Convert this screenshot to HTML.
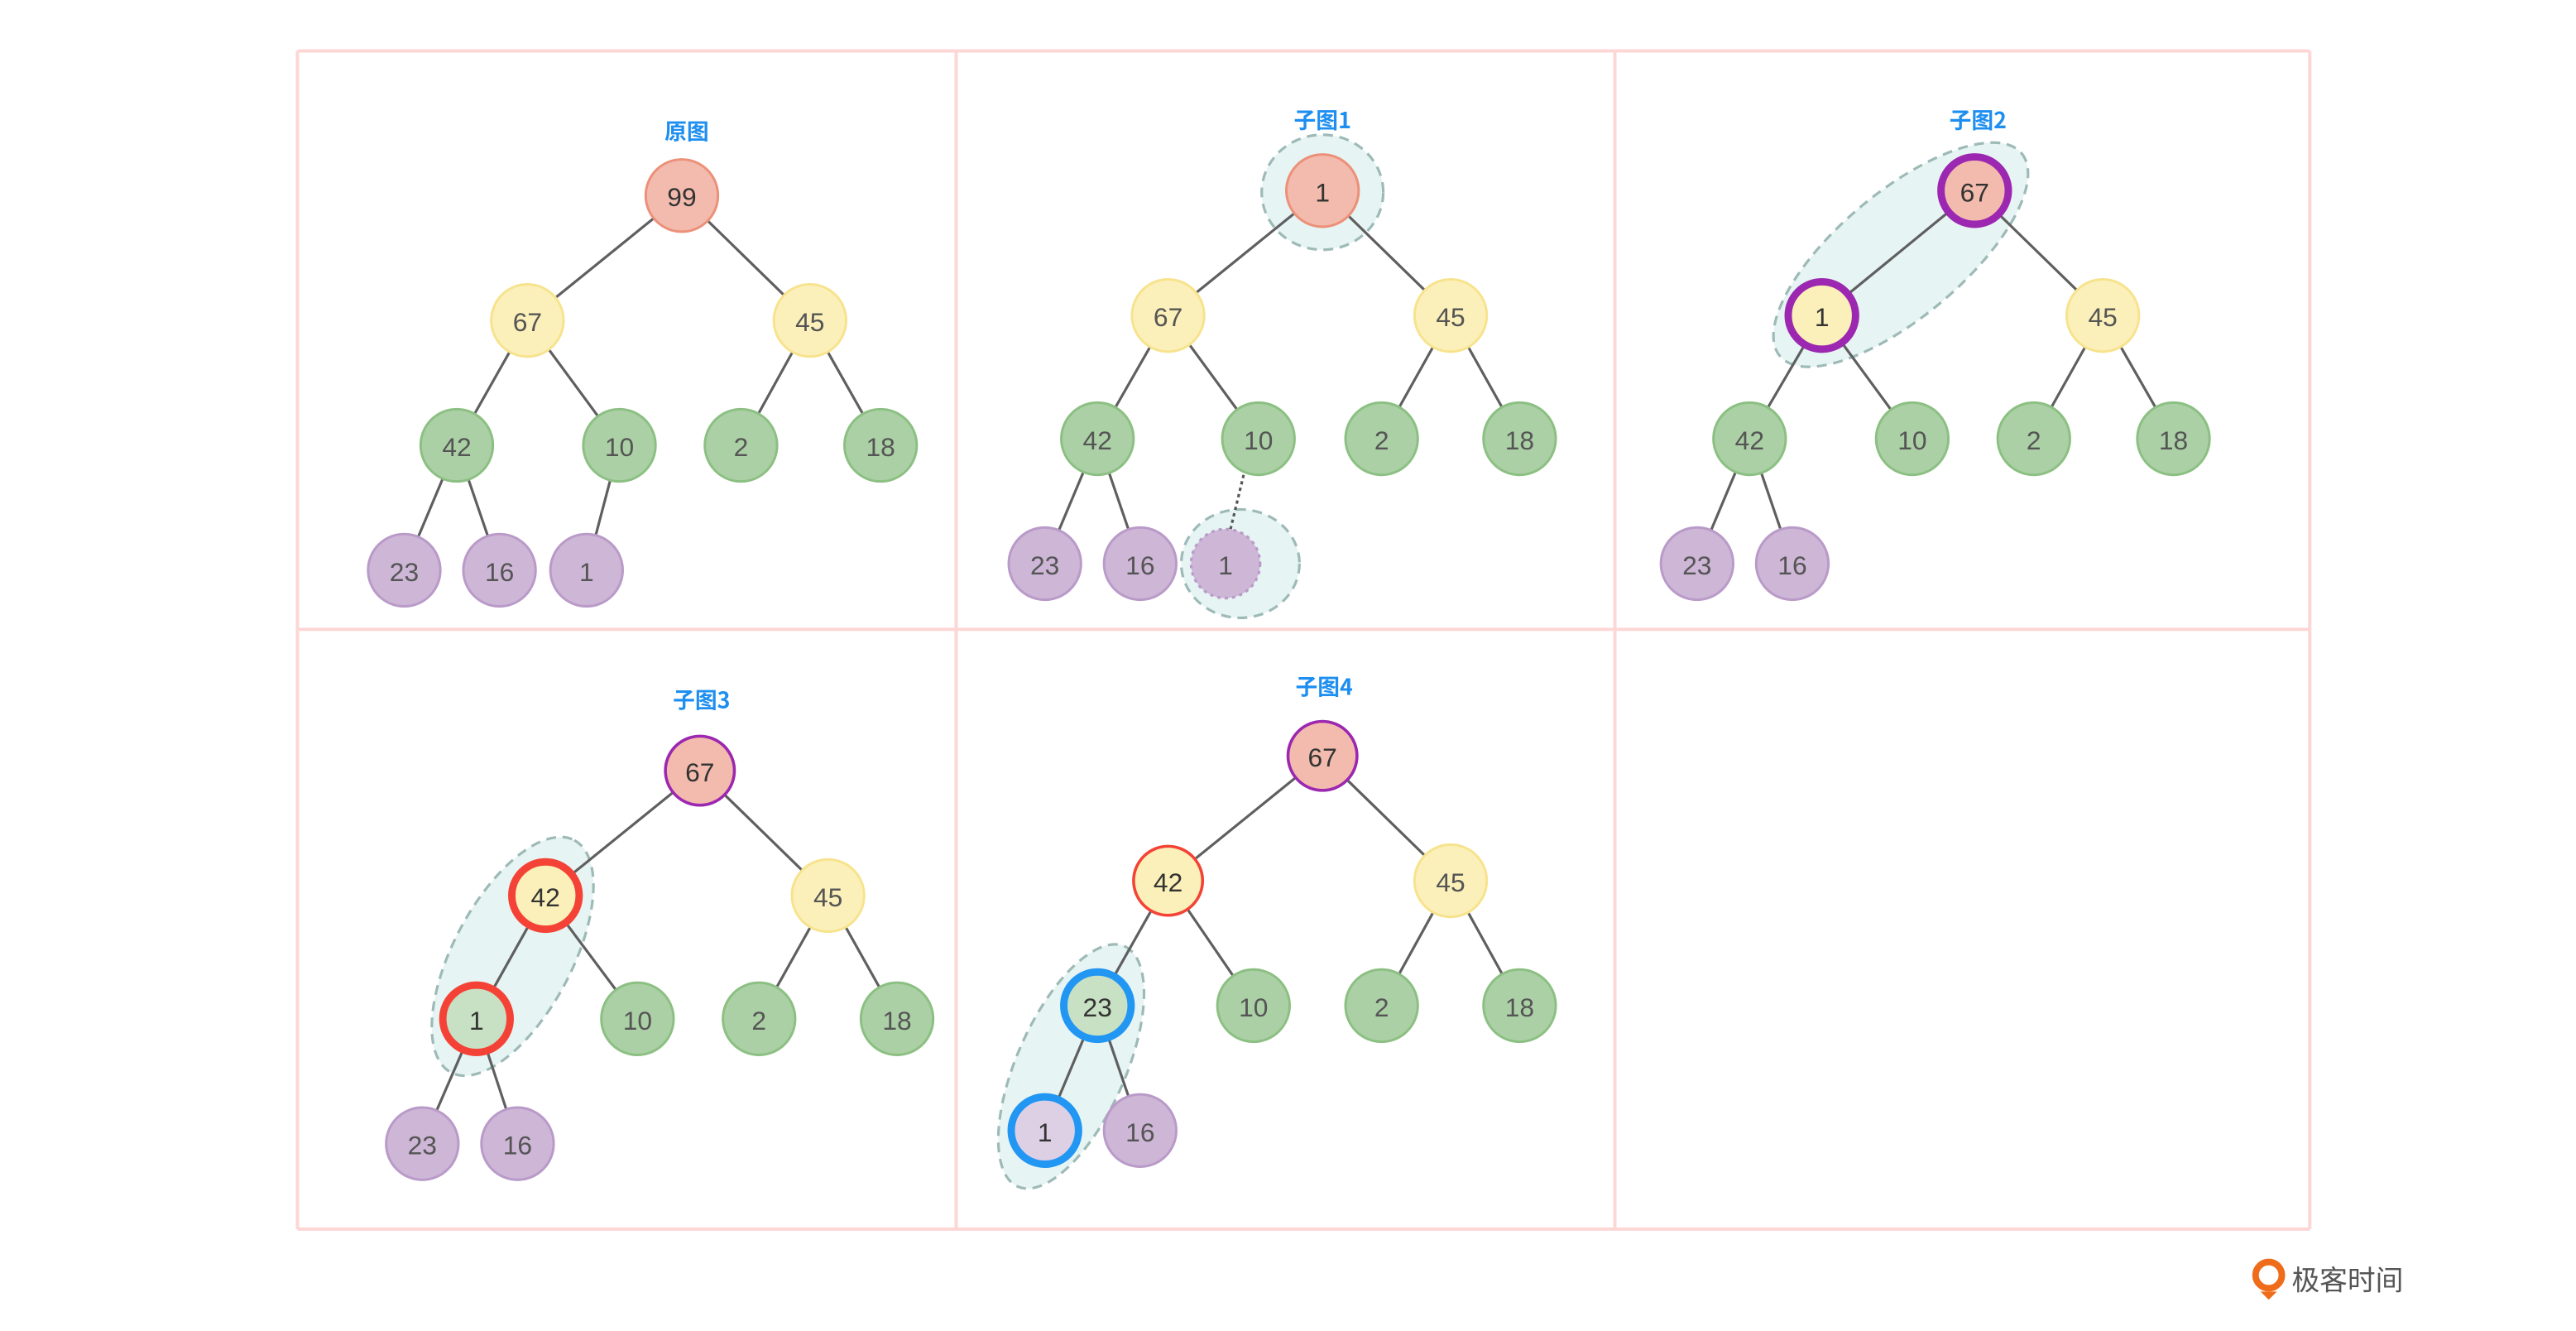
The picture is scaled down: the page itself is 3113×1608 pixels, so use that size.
<!DOCTYPE html>
<html><head><meta charset="utf-8"><style>
html,body{margin:0;padding:0;background:#fff;}
svg{display:block}
text{font-family:"Liberation Sans","Noto Sans CJK SC",sans-serif;}
.n{font-size:16px;fill:#555;text-anchor:middle;dominant-baseline:central}
.d{fill:#333}
.t{font-size:13.5px;fill:#1e8ff0;text-anchor:middle;font-weight:bold;font-family:"Noto Sans CJK SC",sans-serif}
.e{stroke:#5f5f5f;stroke-width:1.6}
.el{fill:#e6f4f3;stroke:#9dbab7;stroke-width:1.6;stroke-dasharray:6 4}
.R{fill:#f2bbad;stroke:#ec9079;stroke-width:1.5}
.Y{fill:#fbf0b9;stroke:#f7e38e;stroke-width:1.5}
.G{fill:#abd0a5;stroke:#8cc083;stroke-width:1.5}
.P{fill:#cdb6d6;stroke:#b99ac8;stroke-width:1.5}
</style></head><body>
<svg width="3113" height="1608" viewBox="0 0 1568 810" xmlns="http://www.w3.org/2000/svg">
<g stroke="#fdd6d6" stroke-width="2" fill="none">
<line x1="181" y1="31" x2="1406" y2="31"/><line x1="181" y1="383" x2="1406" y2="383"/><line x1="181" y1="748" x2="1406" y2="748"/>
<line x1="181" y1="31" x2="181" y2="748"/><line x1="582" y1="31" x2="582" y2="748"/><line x1="983" y1="31" x2="983" y2="748"/><line x1="1406" y1="31" x2="1406" y2="748"/>
</g>

<!-- Panel 1 -->
<text class="t" x="418" y="85">原图</text>
<g class="e"><line x1="415" y1="119" x2="321" y2="195"/><line x1="415" y1="119" x2="493" y2="195"/><line x1="321" y1="195" x2="278" y2="271"/><line x1="321" y1="195" x2="377" y2="271"/><line x1="493" y1="195" x2="451" y2="271"/><line x1="493" y1="195" x2="536" y2="271"/><line x1="278" y1="271" x2="246" y2="347"/><line x1="278" y1="271" x2="304" y2="347"/><line x1="377" y1="271" x2="357" y2="347"/></g>
<circle class="R" cx="415" cy="119" r="22"/><text class="n d" x="415" y="120">99</text>
<circle class="Y" cx="321" cy="195" r="22"/><text class="n" x="321" y="196">67</text>
<circle class="Y" cx="493" cy="195" r="22"/><text class="n" x="493" y="196">45</text>
<circle class="G" cx="278" cy="271" r="22"/><text class="n" x="278" y="272">42</text>
<circle class="G" cx="377" cy="271" r="22"/><text class="n" x="377" y="272">10</text>
<circle class="G" cx="451" cy="271" r="22"/><text class="n" x="451" y="272">2</text>
<circle class="G" cx="536" cy="271" r="22"/><text class="n" x="536" y="272">18</text>
<circle class="P" cx="246" cy="347" r="22"/><text class="n" x="246" y="348">23</text>
<circle class="P" cx="304" cy="347" r="22"/><text class="n" x="304" y="348">16</text>
<circle class="P" cx="357" cy="347" r="22"/><text class="n" x="357" y="348">1</text>

<!-- Panel 2 -->
<text class="t" x="805" y="78">子图1</text>
<ellipse class="el" cx="805" cy="117" rx="37" ry="35"/>
<ellipse class="el" cx="755" cy="343" rx="36" ry="33"/>
<g class="e"><line x1="805" y1="116" x2="711" y2="192"/><line x1="805" y1="116" x2="883" y2="192"/><line x1="711" y1="192" x2="668" y2="267"/><line x1="711" y1="192" x2="766" y2="267"/><line x1="883" y1="192" x2="841" y2="267"/><line x1="883" y1="192" x2="925" y2="267"/><line x1="668" y1="267" x2="636" y2="343"/><line x1="668" y1="267" x2="694" y2="343"/></g>
<line x1="757" y1="289" x2="749" y2="322" stroke="#555" stroke-width="1.6" stroke-dasharray="2 2"/>
<circle class="R" cx="805" cy="116" r="22"/><text class="n d" x="805" y="117">1</text>
<circle class="Y" cx="711" cy="192" r="22"/><text class="n" x="711" y="193">67</text>
<circle class="Y" cx="883" cy="192" r="22"/><text class="n" x="883" y="193">45</text>
<circle class="G" cx="668" cy="267" r="22"/><text class="n" x="668" y="268">42</text>
<circle class="G" cx="766" cy="267" r="22"/><text class="n" x="766" y="268">10</text>
<circle class="G" cx="841" cy="267" r="22"/><text class="n" x="841" y="268">2</text>
<circle class="G" cx="925" cy="267" r="22"/><text class="n" x="925" y="268">18</text>
<circle class="P" cx="636" cy="343" r="22"/><text class="n" x="636" y="344">23</text>
<circle class="P" cx="694" cy="343" r="22"/><text class="n" x="694" y="344">16</text>
<circle cx="746" cy="343" r="21" fill="#cdb6d6" stroke="#b99ac8" stroke-width="1.6" stroke-dasharray="2 2.5"/><text class="n" x="746" y="344">1</text>

<!-- Panel 3 -->
<text class="t" x="1204" y="78">子图2</text>
<ellipse class="el" cx="1157" cy="155" rx="96" ry="38" transform="rotate(-40 1157 155)"/>
<g class="e"><line x1="1202" y1="116" x2="1109" y2="192"/><line x1="1202" y1="116" x2="1280" y2="192"/><line x1="1109" y1="192" x2="1065" y2="267"/><line x1="1109" y1="192" x2="1164" y2="267"/><line x1="1280" y1="192" x2="1238" y2="267"/><line x1="1280" y1="192" x2="1323" y2="267"/><line x1="1065" y1="267" x2="1033" y2="343"/><line x1="1065" y1="267" x2="1091" y2="343"/></g>
<circle cx="1202" cy="116" r="20.5" fill="#f2bbad" stroke="#9c27b0" stroke-width="4.5"/><text class="n d" x="1202" y="117">67</text>
<circle cx="1109" cy="192" r="20.5" fill="#fbf0b9" stroke="#9c27b0" stroke-width="4.5"/><text class="n d" x="1109" y="193">1</text>
<circle class="Y" cx="1280" cy="192" r="22"/><text class="n" x="1280" y="193">45</text>
<circle class="G" cx="1065" cy="267" r="22"/><text class="n" x="1065" y="268">42</text>
<circle class="G" cx="1164" cy="267" r="22"/><text class="n" x="1164" y="268">10</text>
<circle class="G" cx="1238" cy="267" r="22"/><text class="n" x="1238" y="268">2</text>
<circle class="G" cx="1323" cy="267" r="22"/><text class="n" x="1323" y="268">18</text>
<circle class="P" cx="1033" cy="343" r="22"/><text class="n" x="1033" y="344">23</text>
<circle class="P" cx="1091" cy="343" r="22"/><text class="n" x="1091" y="344">16</text>

<!-- Panel 4 -->
<text class="t" x="427" y="431">子图3</text>
<ellipse class="el" cx="312" cy="582" rx="80" ry="36" transform="rotate(-62 312 582)"/>
<g class="e"><line x1="426" y1="469" x2="332" y2="545"/><line x1="426" y1="469" x2="504" y2="545"/><line x1="332" y1="545" x2="290" y2="620"/><line x1="332" y1="545" x2="388" y2="620"/><line x1="504" y1="545" x2="462" y2="620"/><line x1="504" y1="545" x2="546" y2="620"/><line x1="290" y1="620" x2="257" y2="696"/><line x1="290" y1="620" x2="315" y2="696"/></g>
<circle cx="426" cy="469" r="21" fill="#f2bbad" stroke="#9c27b0" stroke-width="1.8"/><text class="n d" x="426" y="470">67</text>
<circle cx="332" cy="545" r="20.5" fill="#fbf0b9" stroke="#f44336" stroke-width="4.5"/><text class="n d" x="332" y="546">42</text>
<circle class="Y" cx="504" cy="545" r="22"/><text class="n" x="504" y="546">45</text>
<circle cx="290" cy="620" r="20.5" fill="#c8e0c3" stroke="#f44336" stroke-width="4.5"/><text class="n d" x="290" y="621">1</text>
<circle class="G" cx="388" cy="620" r="22"/><text class="n" x="388" y="621">10</text>
<circle class="G" cx="462" cy="620" r="22"/><text class="n" x="462" y="621">2</text>
<circle class="G" cx="546" cy="620" r="22"/><text class="n" x="546" y="621">18</text>
<circle class="P" cx="257" cy="696" r="22"/><text class="n" x="257" y="697">23</text>
<circle class="P" cx="315" cy="696" r="22"/><text class="n" x="315" y="697">16</text>

<!-- Panel 5 -->
<text class="t" x="806" y="423">子图4</text>
<ellipse class="el" cx="652" cy="649" rx="80" ry="33" transform="rotate(-66 652 649)"/>
<g class="e"><line x1="805" y1="460" x2="711" y2="536"/><line x1="805" y1="460" x2="883" y2="536"/><line x1="711" y1="536" x2="668" y2="612"/><line x1="711" y1="536" x2="763" y2="612"/><line x1="883" y1="536" x2="841" y2="612"/><line x1="883" y1="536" x2="925" y2="612"/><line x1="668" y1="612" x2="636" y2="688"/><line x1="668" y1="612" x2="694" y2="688"/></g>
<circle cx="805" cy="460" r="21" fill="#f2bbad" stroke="#9c27b0" stroke-width="1.8"/><text class="n d" x="805" y="461">67</text>
<circle cx="711" cy="536" r="21" fill="#fbf0b9" stroke="#f44336" stroke-width="1.8"/><text class="n d" x="711" y="537">42</text>
<circle class="Y" cx="883" cy="536" r="22"/><text class="n" x="883" y="537">45</text>
<circle cx="668" cy="612" r="20.5" fill="#c8e0c3" stroke="#2196f3" stroke-width="4.5"/><text class="n d" x="668" y="613">23</text>
<circle class="G" cx="763" cy="612" r="22"/><text class="n" x="763" y="613">10</text>
<circle class="G" cx="841" cy="612" r="22"/><text class="n" x="841" y="613">2</text>
<circle class="G" cx="925" cy="612" r="22"/><text class="n" x="925" y="613">18</text>
<circle cx="636" cy="688" r="20.5" fill="#ded0e4" stroke="#2196f3" stroke-width="4.5"/><text class="n d" x="636" y="689">1</text>
<circle class="P" cx="694" cy="688" r="22"/><text class="n" x="694" y="689">16</text>

<!-- logo -->
<circle cx="1381" cy="776" r="8" fill="none" stroke="#ef6c1a" stroke-width="4"/>
<path d="M1376 786 L1386 786 L1381 791 Z" fill="#ef6c1a"/>
<text x="1395" y="785" font-size="17" fill="#555" style="font-family:'Noto Sans CJK SC',sans-serif">极客时间</text>
</svg>
</body></html>
